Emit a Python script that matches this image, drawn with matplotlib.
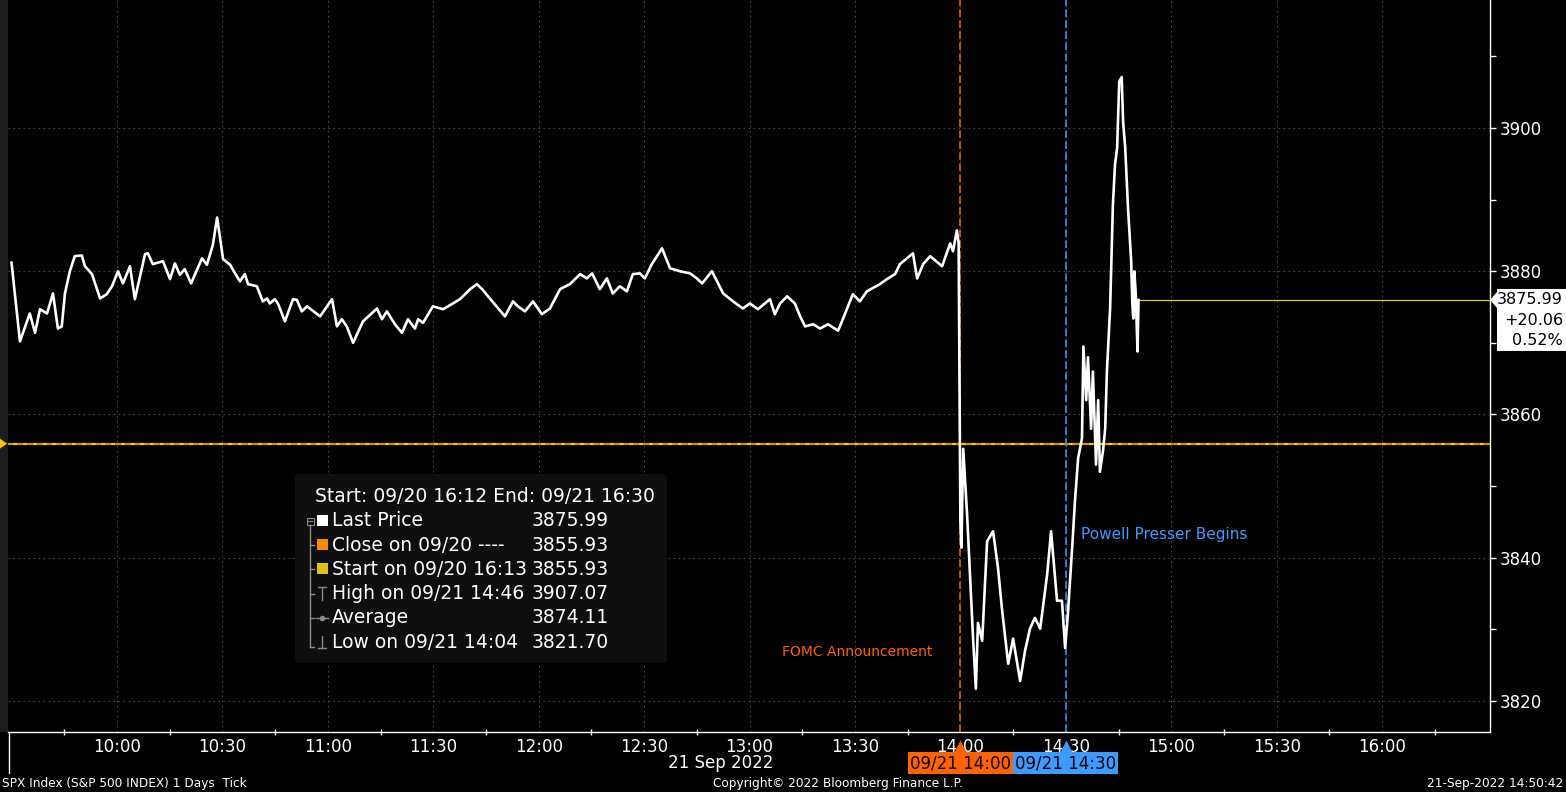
import matplotlib
matplotlib.use("Agg")
import matplotlib.pyplot as plt
from matplotlib.patches import FancyBboxPatch, Rectangle, Polygon
from matplotlib.transforms import blended_transform_factory

# SPX tick data 21 Sep 2022
# minutes after 09:30
minutes = [0.0, 2.4, 5.2, 6.7, 8.1, 10.1, 11.8, 13.2, 14.3, 15.2, 16.6, 18.0, 20.0, 20.9,
           22.9, 25.2, 27.1, 28.6, 30.3, 31.7, 33.7, 35.1, 38.0, 38.8, 40.2, 43.1, 45.1,
           46.5, 47.9, 49.3, 51.1, 54.2, 55.6, 57.3, 58.5, 60.2, 62.2, 63.6, 65.0, 66.4,
           67.3, 69.8, 71.5, 72.7, 73.5, 74.9, 75.8, 77.8, 80.1, 81.2, 82.6, 84.1, 87.8,
           91.2, 92.6, 94.0, 95.4, 97.2, 100.0, 104.0, 105.4, 106.8, 109.1, 111.1, 112.8,
           114.8, 115.7, 117.1, 119.9, 122.8, 125.6, 127.6, 130.5, 132.4, 133.9, 136.1,
           140.4, 142.7, 144.1, 146.1, 148.4, 150.9, 153.2, 156.1, 158.9, 161.8, 163.7,
           165.2, 167.4, 169.4, 171.1, 173.1, 175.1, 176.8, 178.8, 180.2, 182.2, 185.1,
           187.4, 190.2, 193.1, 195.0, 196.5, 199.3, 202.5, 205.3, 208.1, 210.1, 212.4,
           215.8, 217.2, 218.7, 220.7, 222.9, 224.4, 225.8, 228.1, 230.1, 232.3, 235.2,
           236.3, 239.4, 241.4, 243.4, 247.1, 249.1, 251.4, 252.8, 256.5, 257.7, 259.4,
           261.4, 264.8, 267.1, 267.9, 269.0, 269.5, 270.0, 270.3, 270.8, 271.9, 273.6,
           274.4, 275.0, 276.2, 277.6, 279.3, 280.7, 281.8, 283.6, 285.0, 287.0, 288.4,
           289.8, 291.2, 292.7, 294.7, 295.8, 297.5, 298.9, 299.8, 300.6, 301.8, 302.6,
           303.5, 304.6, 305.0, 305.8, 306.3, 307.2, 307.7, 308.6, 309.2, 309.7, 310.6,
           311.2, 311.7, 312.6, 313.4, 314.0, 314.6, 315.2, 315.9, 316.3, 316.9, 317.7,
           318.6, 318.9, 319.2, 319.5, 319.9, 320.4, 320.7]
prices = [3881.2, 3870.2, 3874.1, 3871.4, 3874.7, 3874.1, 3876.9, 3872.0, 3872.3, 3876.9,
          3880.0, 3882.1, 3882.2, 3880.7, 3879.6, 3876.2, 3876.8, 3877.9, 3880.0, 3878.3,
          3880.7, 3876.1, 3882.4, 3882.5, 3881.0, 3881.4, 3878.9, 3881.1, 3879.5, 3880.3,
          3878.3, 3881.8, 3880.9, 3883.7, 3887.5, 3881.7, 3880.9, 3879.7, 3878.6, 3879.6,
          3878.2, 3877.9, 3875.8, 3876.2, 3875.5, 3876.1, 3875.5, 3873.0, 3876.1, 3876.0,
          3874.4, 3875.1, 3873.7, 3876.1, 3872.3, 3873.3, 3872.3, 3870.0, 3873.0, 3874.8,
          3873.3, 3874.4, 3872.6, 3871.4, 3873.3, 3872.0, 3873.3, 3872.8, 3875.1, 3874.7,
          3875.5, 3876.1, 3877.5, 3878.2, 3877.5, 3876.2, 3873.7, 3875.8, 3875.1, 3874.4,
          3875.8, 3874.0, 3874.8, 3877.5, 3878.2, 3879.6, 3879.0, 3879.7, 3877.5, 3879.0,
          3876.9, 3877.9, 3877.2, 3879.6, 3879.7, 3879.0, 3881.0, 3883.2, 3880.4, 3880.0,
          3879.7, 3879.0, 3878.3, 3880.0, 3876.9, 3875.8, 3874.8, 3875.5, 3874.7, 3876.1,
          3874.0, 3875.5, 3876.5, 3875.5, 3873.7, 3872.3, 3872.6, 3872.0, 3872.6, 3871.7,
          3873.0, 3876.8, 3875.8, 3877.2, 3878.2, 3878.9, 3879.6, 3881.0, 3882.5, 3879.0,
          3881.0, 3882.1, 3880.7, 3883.9, 3882.8, 3885.7, 3884.0, 3845.0, 3841.4, 3855.2,
          3846.1, 3828.8, 3821.7, 3830.9, 3828.4, 3842.3, 3843.7, 3838.6, 3833.0, 3825.2,
          3828.7, 3822.8, 3827.0, 3830.1, 3831.6, 3830.1, 3837.7, 3843.7, 3834.0, 3834.0,
          3827.4, 3832.2, 3841.4, 3847.9, 3853.9, 3856.7, 3869.5, 3862.0, 3868.0, 3858.0,
          3866.0, 3853.0, 3862.0, 3852.0, 3855.0, 3858.0, 3866.1, 3874.8, 3889.3, 3894.9,
          3897.2, 3906.5, 3907.1, 3900.9, 3897.2, 3888.8, 3881.4, 3875.8, 3873.4, 3880.0,
          3876.8, 3868.8, 3875.99]

close_prev = 3855.93
last_price = 3875.99
change_txt = ['3875.99', '+20.06', '0.52%']

tick_pos = [30, 60, 90, 120, 150, 180, 210, 240, 270, 300, 330, 360, 390]
tick_labels = ['10:00', '10:30', '11:00', '11:30', '12:00', '12:30', '13:00', '13:30',
               '14:00', '14:30', '15:00', '15:30', '16:00']
y_ticks = [3820, 3840, 3860, 3880, 3900]

event_times = [270, 300]
event_labels = ['09/21 14:00', '09/21 14:30']
event_colors = ['#ff6200', '#3d9bff']
note_texts = ['FOMC Announcement', 'Powell Presser Begins']
note_pos = [(262.0, 3826.8), (304.3, 3843.2)]

leg_labels = ['Last Price', 'Close on 09/20 ----', 'Start on 09/20 16:13',
              'High on 09/21 14:46', 'Average', 'Low on 09/21 14:04']
leg_values = ['3875.99', '3855.93', '3855.93', '3907.07', '3874.11', '3821.70']
leg_swatch = ['white', '#f08c00', '#e0c010', None, None, None]

W, H = 1566, 792
plt.rcParams['font.family'] = ['DejaVu Sans']
fig = plt.figure(figsize=(W / 100, H / 100), dpi=100, facecolor='black')
ax = fig.add_axes([8 / W, 60 / H, 1482 / W, 732 / H], facecolor='black')

ax.set_xlim(-1.0, 420.7)
ax.set_ylim(3815.67, 3917.87)

grid_kw = dict(color='#474747', lw=0.8, dashes=(1.5, 3), zorder=1)
for t in tick_pos:
    ax.axvline(t, **grid_kw)
for v in y_ticks:
    ax.axhline(v, **grid_kw)

# previous close / start line (orange + yellow alternating)
ax.axhline(close_prev, color='#e88a00', lw=1.6, dashes=(2.2, 2.2), zorder=2)
ax.axhline(close_prev, color='#f2c800', lw=1.6, dashes=(0, 2.2, 2.2, 0), zorder=2)

for t, c in zip(event_times, event_colors):
    ax.axvline(t, color=c, lw=1.1, dashes=(5, 2.2), zorder=2)

ax.plot(minutes, prices, color='white', lw=1.9, zorder=4, solid_joinstyle='round')
ax.plot([minutes[-1], 420.7], [last_price, last_price], color='#e8c020', lw=0.9, zorder=3)

for (tx, ty), txt, c, ha, fs in zip(note_pos, note_texts, event_colors, ['right', 'left'], [10, 11]):
    ax.text(tx, ty, txt, color=c, fontsize=fs, ha=ha, va='center', zorder=5)

ax.yaxis.tick_right()
ax.set_yticks(y_ticks)
ax.set_yticks([3830, 3850, 3870, 3890, 3910], minor=True)
ax.set_xticks(tick_pos)
ax.set_xticklabels(tick_labels)
ax.set_xticks([t + 15 for t in [0] + tick_pos], minor=True)
ax.tick_params(axis='x', which='major', length=0, pad=4, colors='white', labelsize=12)
ax.tick_params(axis='x', which='minor', length=5, direction='inout', color='white', width=1)
ax.tick_params(axis='y', which='major', length=4, pad=3, colors='white', labelsize=12, width=1)
ax.tick_params(axis='y', which='minor', length=4, color='white', width=1)
for s in ['top', 'left']:
    ax.spines[s].set_visible(False)
for s in ['bottom', 'right']:
    ax.spines[s].set_color('white')
    ax.spines[s].set_linewidth(1)

# event markers below the axis
bt = blended_transform_factory(ax.transData, fig.transFigure)
for t, lab, c in zip(event_times, event_labels, event_colors):
    ax.plot([t], [1 - 746 / H], marker='^', ms=9, color=c, mec='none', transform=bt, clip_on=False)
    ax.text(t, 1 - 763 / H, lab, transform=bt, ha='center', va='center', fontsize=12,
            color='black', bbox=dict(boxstyle='square,pad=0.12', fc=c, ec='none'))

# overlay in pixel coordinates for the decorations
ov = fig.add_axes([0, 0, 1, 1], facecolor='none', zorder=10)
ov.set_xlim(0, W)
ov.set_ylim(H, 0)
ov.axis('off')

ov.add_patch(Rectangle((0, 0), 8, 732, fc='#1e1e1e', ec='none'))
ov.plot([9, 9], [732, 773], color='white', lw=1)
_, yd = ax.transData.transform((0, close_prev))
ov.add_patch(Polygon([(0, H - yd - 5), (7, H - yd), (0, H - yd + 5)], fc='#f2c800', ec='none'))

# price tag on the right
_, yd = ax.transData.transform((0, last_price))
yp = H - yd
ov.add_patch(Polygon([(1490, yp), (1497, yp - 8), (1497, yp - 11), (1566, yp - 11),
                      (1566, yp + 51), (1497, yp + 51), (1497, yp + 8)], fc='white', ec='none'))
for i, s in enumerate(change_txt):
    ov.text(1563, yp + i * 20.5, s, color='black', fontsize=11.5, ha='right', va='center')

# legend box
ov.add_patch(FancyBboxPatch((297, 476), 368, 185, boxstyle='round,pad=2,rounding_size=4',
                            fc='#0e0e0e', ec='none'))
ov.text(315, 497, 'Start: 09/20 16:12 End: 09/21 16:30', color='white', fontsize=13.5,
        ha='left', va='center')
row_y = [521 + 24.2 * i for i in range(len(leg_labels))]
g = '#8a8a8a'
ov.plot([310, 310], [525, row_y[-1] + 5], color=g, lw=1)
ov.add_patch(Rectangle((306.5, 517.5), 7, 7, fc='none', ec=g, lw=0.8))
ov.plot([308, 312], [521, 521], color=g, lw=0.8)
for y, lab, val, sw in zip(row_y, leg_labels, leg_values, leg_swatch):
    if y > 530:
        yb = y + 5 if y == row_y[-1] else y
        ov.plot([310, 314], [yb, yb], color=g, lw=1)
    if sw is not None:
        ov.add_patch(Rectangle((317, y - 6), 11, 11, fc=sw, ec='none'))
    ov.text(332, y, lab, color='white', fontsize=13.5, ha='left', va='center')
    ov.text(532, y, val, color='white', fontsize=13.5, ha='left', va='center')
# high / average / low symbols
ov.plot([318, 326], [row_y[3] - 7, row_y[3] - 7], color=g, lw=1)
ov.plot([322, 322], [row_y[3] - 7, row_y[3] + 6], color=g, lw=1)
ov.plot([316, 328], [row_y[4], row_y[4]], color=g, lw=1)
ov.plot([322], [row_y[4]], marker='o', ms=3, color=g)
ov.plot([322, 322], [row_y[5] - 6, row_y[5] + 6], color=g, lw=1)
ov.plot([318, 326], [row_y[5] + 6, row_y[5] + 6], color=g, lw=1)

# date under the axis and footer
ov.text(721, 763, '21 Sep 2022', color='white', fontsize=12, ha='center', va='center')
ov.text(2, 783, 'SPX Index (S&P 500 INDEX) 1 Days  Tick', color='white', fontsize=8.7,
        ha='left', va='center')
ov.text(838, 783, 'Copyright\u00a9 2022 Bloomberg Finance L.P.', color='white', fontsize=8.7,
        ha='center', va='center')
ov.text(1563, 783, '21-Sep-2022 14:50:42', color='white', fontsize=8.7,
        ha='right', va='center')

fig.savefig('out.png', dpi=100, facecolor='black')
